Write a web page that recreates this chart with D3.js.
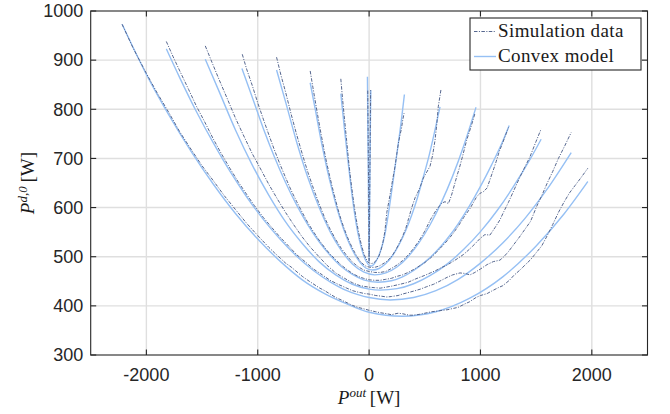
<!DOCTYPE html>
<html lang="en">
<head>
<meta charset="UTF-8">
<title>Simulation data vs convex model</title>
<script src="https://d3js.org/d3.v7.min.js"></script>
<style>
  body { margin: 0; background: #fff; }
  svg { display: block; }
  .tick-label { font-family: "Liberation Sans", Arial, sans-serif; font-size: 18px; fill: #262626; }
  .serif { font-family: "Liberation Serif", "Times New Roman", serif; fill: #1a1a1a; }
</style>
</head>
<body>
<div id="chart"></div>
<script>
// axis ticks
const xTicks = [-2000, -1000, 0, 1000, 2000];
const yTicks = [300, 400, 500, 600, 700, 800, 900, 1000];

// simulation data, one array of [Pout, Pd0] per operating point
const sim1 = [[-2218,973],[-2120,925],[-2000,873],[-1900,832],[-1800,794],[-1700,754],[-1600,719],[-1500,685],[-1400,655],[-1300,624],[-1200,596],[-1100,568],[-1000,543],[-900,519],[-850,508],[-750,487],[-700,479],[-600,460],[-550,452],[-450,437],[-400,431],[-300,417],[-250,412],[-150,401],[-100,397],[0,391],[60,388],[100,386],[160,384],[200,382],[260,385],[300,384],[360,381],[400,381],[460,383],[500,385],[560,388],[600,389],[660,391],[700,392],[760,395],[800,397],[860,404],[900,408],[960,417],[1000,421],[1060,425],[1100,430],[1160,437],[1200,441],[1260,452],[1300,462],[1360,474],[1400,483],[1450,494],[1500,508],[1550,522],[1600,543],[1650,566],[1700,590],[1750,611],[1800,630],[1850,645],[1900,660],[1964,680]];
const sim2 = [[-1821,938],[-1760,907],[-1700,878],[-1620,840],[-1550,806],[-1480,776],[-1400,740],[-1330,711],[-1250,680],[-1180,654],[-1100,627],[-1030,604],[-950,580],[-880,561],[-800,540],[-720,521],[-650,504],[-570,489],[-500,475],[-420,463],[-350,452],[-280,444],[-200,436],[-150,431],[-100,428],[-40,425],[0,424],[60,421],[100,420],[160,418],[200,419],[260,421],[300,424],[350,427],[400,430],[460,434],[517,439],[580,444],[650,452],[700,458],[750,463],[816,467],[860,466],[906,463],[950,468],[1000,475],[1060,484],[1115,490],[1175,493],[1210,500],[1250,510],[1300,525],[1350,540],[1400,556],[1450,572],[1504,602],[1550,624],[1600,650],[1650,674],[1700,700],[1760,727],[1815,753]];
const sim3 = [[-1471,929],[-1410,895],[-1350,862],[-1280,825],[-1200,782],[-1130,748],[-1050,710],[-980,681],[-900,647],[-820,616],[-750,590],[-680,566],[-600,540],[-530,520],[-450,500],[-380,483],[-300,467],[-220,456],[-150,447],[-80,441],[0,438],[50,437],[100,436],[150,438],[200,440],[280,444],[350,448],[420,455],[500,462],[550,467],[600,472],[650,478],[700,483],[750,490],[800,497],[850,505],[900,515],[950,526],[996,537],[1040,545],[1085,544],[1130,559],[1175,575],[1210,592],[1250,610],[1300,635],[1350,660],[1400,683],[1444,703],[1500,735],[1545,760]];
const sim4 = [[-1139,912],[-1100,882],[-1050,849],[-1000,813],[-950,780],[-900,748],[-850,717],[-800,688],[-750,661],[-700,635],[-650,612],[-600,590],[-550,569],[-500,551],[-450,534],[-400,519],[-350,505],[-300,494],[-250,483],[-200,474],[-150,466],[-100,460],[-50,456],[0,453],[50,452],[100,452],[150,454],[200,456],[250,460],[300,463],[350,468],[400,474],[450,481],[500,488],[550,497],[600,508],[650,520],[700,532],[750,546],[800,562],[850,580],[906,598],[966,622],[996,629],[1025,632],[1060,640],[1090,660],[1115,676],[1140,693],[1170,715],[1200,732],[1230,750],[1252,763]];
const sim5 = [[-831,906],[-790,868],[-750,835],[-700,790],[-650,748],[-600,709],[-550,672],[-500,639],[-450,608],[-400,580],[-350,556],[-300,535],[-250,517],[-200,502],[-150,489],[-100,480],[-50,473],[0,470],[50,468],[100,468],[150,470],[200,476],[250,483],[300,492],[350,503],[400,517],[450,533],[500,552],[550,575],[600,594],[652,609],[682,612],[712,608],[740,625],[787,663],[810,680],[840,705],[876,737],[920,768],[951,792]];
const sim6 = [[-529,878],[-505,845],[-480,812],[-455,779],[-430,748],[-405,718],[-380,690],[-355,665],[-330,641],[-305,619],[-280,597],[-255,578],[-230,561],[-205,546],[-180,532],[-155,520],[-130,509],[-105,499],[-80,491],[-55,485],[-30,481],[0,479],[30,478],[60,479],[90,481],[120,485],[150,489],[180,495],[210,503],[240,514],[270,527],[300,541],[330,558],[355,578],[383,600],[413,620],[440,632],[465,646],[487,660],[517,672],[547,684],[570,706],[592,737],[608,770],[621,805],[646,841]];
const sim7 = [[-254,862],[-237,818],[-220,778],[-202,737],[-185,697],[-168,662],[-150,630],[-133,602],[-115,576],[-98,554],[-80,534],[-62,518],[-45,505],[-28,496],[-10,489],[5,487],[20,486],[38,487],[55,490],[72,495],[90,502],[108,514],[125,530],[142,552],[159,590],[177,612],[195,635],[214,660],[233,684],[248,708],[263,731],[278,748],[290,760],[302,778],[314,792]];
const sim8 = [[-12,838],[-9,760],[-6,680],[-3,590],[-1,520],[0,491],[2,530],[5,610],[8,690],[11,770],[14,839]];

// convex model fits
const model1 = [[-2218,973],[-2000,871],[-1800,789],[-1600,715],[-1400,648],[-1200,588],[-1000,536],[-800,491],[-600,453],[-400,425],[-200,404],[0,387],[300,379],[600,388],[900,415],[1200,459],[1500,522],[1750,587],[1964,653]];
const model2 = [[-1821,923],[-1700,864],[-1550,795],[-1400,732],[-1250,674],[-1100,622],[-950,576],[-800,536],[-650,501],[-500,472],[-350,449],[-200,431],[-100,423],[0,417],[190,412],[400,417],[600,431],[800,454],[1000,487],[1200,528],[1400,578],[1600,638],[1815,712]];
const model3 = [[-1471,902],[-1350,838],[-1200,758],[-1050,687],[-900,625],[-750,571],[-600,527],[-450,490],[-300,463],[-150,444],[0,434],[100,432],[250,435],[400,445],[550,462],[700,485],[850,515],[1000,551],[1150,594],[1300,644],[1450,700],[1545,739]];
const model4 = [[-1142,883],[-1050,825],[-950,761],[-850,703],[-750,651],[-650,605],[-550,565],[-450,531],[-350,503],[-250,480],[-150,464],[-50,453],[80,448],[200,451],[300,459],[400,472],[500,489],[600,510],[700,536],[800,567],[900,603],[1000,643],[1100,687],[1200,735],[1258,767]];
const model5 = [[-831,880],[-750,815],[-650,733],[-550,661],[-450,601],[-350,551],[-250,513],[-150,485],[-50,469],[50,463],[150,467],[250,479],[350,500],[450,529],[550,566],[650,611],[750,664],[850,726],[960,804]];
const model6 = [[-529,854],[-480,796],[-430,735],[-380,681],[-330,634],[-280,592],[-230,557],[-180,528],[-130,505],[-80,488],[-30,477],[30,473],[90,476],[150,486],[210,502],[270,525],[330,554],[383,585],[430,617],[480,657],[530,698],[580,746],[637,805]];
const model7 = [[-254,832],[-220,757],[-185,686],[-150,620],[-115,566],[-80,527],[-45,500],[-10,485],[20,481],[60,490],[100,510],[140,543],[175,590],[210,645],[250,710],[290,778],[317,830]];
const model8 = [[-15,866],[-11,760],[-7,660],[-3,560],[0,490],[3,560],[7,660],[11,760],[15,839]];

const simSeries = [sim1, sim2, sim3, sim4, sim5, sim6, sim7, sim8];
const modelSeries = [model1, model2, model3, model4, model5, model6, model7, model8];

const W = 670, H = 414;
const margin = {top: 11, right: 22.5, bottom: 59, left: 90.7};
const width = W - margin.left - margin.right,
      height = H - margin.top - margin.bottom;

const simColor = "#56678f", modelColor = "#96c0f4", axisColor = "#262626";
const simDash = "3.5,1.4,1.1,1.4";

const svg = d3.select("#chart").append("svg")
    .attr("width", W)
    .attr("height", H);

const g = svg.append("g")
    .attr("transform", `translate(${margin.left},${margin.top})`);

const x = d3.scaleLinear().domain([-2500, 2500]).range([0, width]);
const y = d3.scaleLinear().domain([300, 1000]).range([height, 0]);

// grid
g.append("g").selectAll("line").data(xTicks).enter().append("line")
    .attr("x1", d => x(d)).attr("x2", d => x(d))
    .attr("y1", 0).attr("y2", height)
    .attr("stroke", "#dfdfdf").attr("stroke-width", 1.4);
g.append("g").selectAll("line").data(yTicks.slice(1, -1)).enter().append("line")
    .attr("x1", 0).attr("x2", width)
    .attr("y1", d => y(d)).attr("y2", d => y(d))
    .attr("stroke", "#dfdfdf").attr("stroke-width", 1.4);

// curves
const line = d3.line().x(d => x(d[0])).y(d => y(d[1]));
const smooth = d3.line().x(d => x(d[0])).y(d => y(d[1])).curve(d3.curveMonotoneX);

g.append("g").selectAll("path").data(modelSeries).enter().append("path")
    .attr("d", smooth)
    .attr("fill", "none")
    .attr("stroke", modelColor)
    .attr("stroke-width", 1.4);

g.append("g").selectAll("path").data(simSeries).enter().append("path")
    .attr("d", line)
    .attr("fill", "none")
    .attr("stroke", simColor)
    .attr("stroke-width", 1)
    .attr("stroke-dasharray", simDash);

// box with inward ticks on all four sides
const tickLen = 5.5;
const axes = g.append("g").attr("stroke", axisColor).attr("stroke-width", 1.1);
axes.append("rect").attr("x", 0).attr("y", 0).attr("width", width).attr("height", height).attr("fill", "none");
xTicks.forEach(t => {
    axes.append("line").attr("x1", x(t)).attr("x2", x(t)).attr("y1", height).attr("y2", height - tickLen);
    axes.append("line").attr("x1", x(t)).attr("x2", x(t)).attr("y1", 0).attr("y2", tickLen);
});
yTicks.forEach(t => {
    axes.append("line").attr("x1", 0).attr("x2", tickLen).attr("y1", y(t)).attr("y2", y(t));
    axes.append("line").attr("x1", width).attr("x2", width - tickLen).attr("y1", y(t)).attr("y2", y(t));
});

// tick labels
g.append("g").selectAll("text").data(xTicks).enter().append("text")
    .attr("class", "tick-label")
    .attr("x", d => x(d))
    .attr("y", height + 26)
    .attr("text-anchor", "middle")
    .text(d => d);
g.append("g").selectAll("text").data(yTicks).enter().append("text")
    .attr("class", "tick-label")
    .attr("x", -7.5)
    .attr("y", d => y(d))
    .attr("dy", "0.35em")
    .attr("text-anchor", "end")
    .text(d => d);

// axis titles
const xt = g.append("text").attr("class", "serif")
    .attr("x", x(0)).attr("y", height + 49)
    .attr("text-anchor", "middle")
    .attr("font-size", 19);
xt.append("tspan").attr("font-style", "italic").text("P");
xt.append("tspan").attr("font-style", "italic").attr("font-size", 13).attr("dy", -7).text("out");
xt.append("tspan").attr("dy", 7).text("\u2009[W]");

const yt = g.append("text").attr("class", "serif")
    .attr("transform", `translate(${-margin.left + 34},${height / 2}) rotate(-90)`)
    .attr("text-anchor", "middle")
    .attr("font-size", 19);
yt.append("tspan").attr("font-style", "italic").text("P");
yt.append("tspan").attr("font-style", "italic").attr("font-size", 13).attr("dy", -7).text("d,0");
yt.append("tspan").attr("dy", 7).text("\u2009[W]");

// legend
const lg = svg.append("g").attr("transform", "translate(470,18)");
lg.append("rect").attr("width", 171).attr("height", 52)
    .attr("fill", "#fff").attr("stroke", axisColor).attr("stroke-width", 1.1);
const legendItems = [
    {label: "Simulation data", color: simColor, dash: simDash, w: 1},
    {label: "Convex model", color: modelColor, dash: null, w: 1.4}
];
legendItems.forEach((d, i) => {
    const yy = 13.5 + i * 25;
    lg.append("line").attr("x1", 4).attr("x2", 26).attr("y1", yy).attr("y2", yy)
        .attr("stroke", d.color).attr("stroke-width", d.w)
        .attr("stroke-dasharray", d.dash);
    lg.append("text").attr("class", "serif")
        .attr("x", 28).attr("y", yy + 5.5)
        .attr("font-size", 19)
        .attr("letter-spacing", 0.4)
        .text(d.label);
});
</script>
</body>
</html>
